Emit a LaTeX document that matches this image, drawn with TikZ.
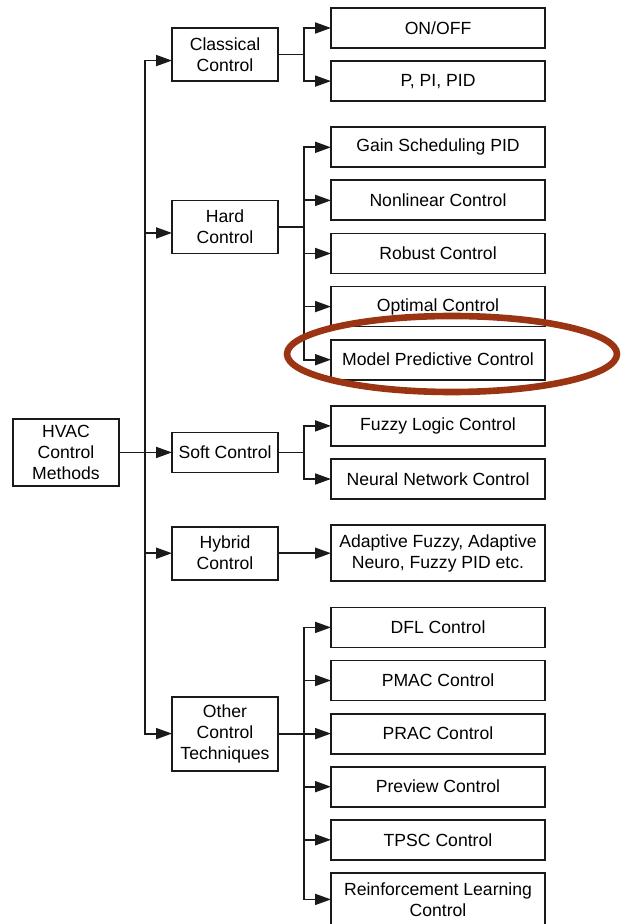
\documentclass[tikz,border=0pt]{standalone}
\usepackage{fontspec}
\setmainfont{Liberation Sans}
\usetikzlibrary{arrows.meta,calc,positioning,shapes.geometric}
\definecolor{edge}{HTML}{1A1A1A}
\definecolor{ringred}{HTML}{9A3412}

\begin{document}
\begin{tikzpicture}[
 node distance=6.55pt,
 every node/.style={font=\fontsize{8.8}{10.5}\selectfont,align=center,outer sep=0pt},
 cat/.style={draw=edge,line width=.9pt,inner sep=1.5pt,minimum width=53pt,minimum height=26.5pt},
 leaf/.style={draw=edge,line width=.9pt,inner sep=1.5pt,minimum width=107pt,minimum height=20pt},
 arr/.style={-{Triangle[length=8pt,width=5.5pt]},line width=.9pt,draw=edge},
 ring/.style={draw=ringred,line width=3.3pt,ellipse,minimum width=165pt,minimum height=38pt,inner sep=0pt}]
 \useasboundingbox (0,0) rectangle (310.5pt,-462pt);
 \node[leaf] (onoff) at (219pt,-14pt) {ON/OFF};
 \node[leaf,below=of onoff] (ppid) {P, PI, PID};
 \node[leaf,below=13.1pt of ppid] (gain) {Gain Scheduling PID};
 \node[leaf,below=of gain] (nonlin) {Nonlinear Control};
 \node[leaf,below=of nonlin] (robust) {Robust Control};
 \node[leaf,below=of robust] (optimal) {Optimal Control};
 \node[leaf,below=of optimal] (mpc) {Model Predictive Control};
 \node[leaf,below=13.1pt of mpc] (fuzzy) {Fuzzy Logic Control};
 \node[leaf,below=of fuzzy] (neural) {Neural Network Control};
 \node[leaf,below=13.1pt of neural,minimum height=28pt] (adapt) {Adaptive Fuzzy, Adaptive\\Neuro, Fuzzy PID etc.};
 \node[leaf,below=13.1pt of adapt] (dfl) {DFL Control};
 \node[leaf,below=of dfl] (pmac) {PMAC Control};
 \node[leaf,below=of pmac] (prac) {PRAC Control};
 \node[leaf,below=of prac] (preview) {Preview Control};
 \node[leaf,below=of preview] (tpsc) {TPSC Control};
 \node[leaf,below=of tpsc,minimum height=26.5pt] (rl) {Reinforcement Learning\\Control};
 \coordinate (m1) at ($(onoff.west)!.5!(ppid.west)$);
 \coordinate (m2) at ($(nonlin.west)!.5!(robust.west)$);
 \coordinate (m3) at ($(fuzzy.west)!.5!(neural.west)$);
 \node[cat,left=26.5pt of m1] (classical) {Classical\\Control};
 \node[cat,left=26.5pt of m2] (hard) {Hard\\Control};
 \node[cat,left=26.5pt of m3,minimum height=20pt] (soft) {Soft Control};
 \node[cat,left=26.5pt of adapt] (hybrid) {Hybrid\\Control};
 \node[cat,left=26.5pt of prac,minimum height=37pt] (other) {Other\\Control\\Techniques};
 \node[cat,left=26.5pt of soft,minimum height=33.5pt] (hvac) {HVAC\\Control\\Methods};
 \foreach \t/\s in {classical/-3pt,hard/-3pt,soft/0pt,hybrid/0pt,other/0pt}
  \draw[arr] (hvac.east) -- ++(13pt,0) |- ([yshift=\s]\t.west);
 \foreach \t in {onoff,ppid}
  \draw[arr] (classical.east) -- ++(13pt,0) |- (\t.west);
 \foreach \t in {gain,nonlin,robust,optimal,mpc}
  \draw[arr] (hard.east) -- ++(13pt,0) |- (\t.west);
 \foreach \t in {fuzzy,neural}
  \draw[arr] (soft.east) -- ++(13pt,0) |- (\t.west);
 \draw[arr] (hybrid) -- (adapt);
 \foreach \t in {dfl,pmac,prac,preview,tpsc,rl}
  \draw[arr] (other.east) -- ++(13pt,0) |- (\t.west);
 \node[ring] (focus) at (226pt,-177pt) {};
\end{tikzpicture}
\end{document}
